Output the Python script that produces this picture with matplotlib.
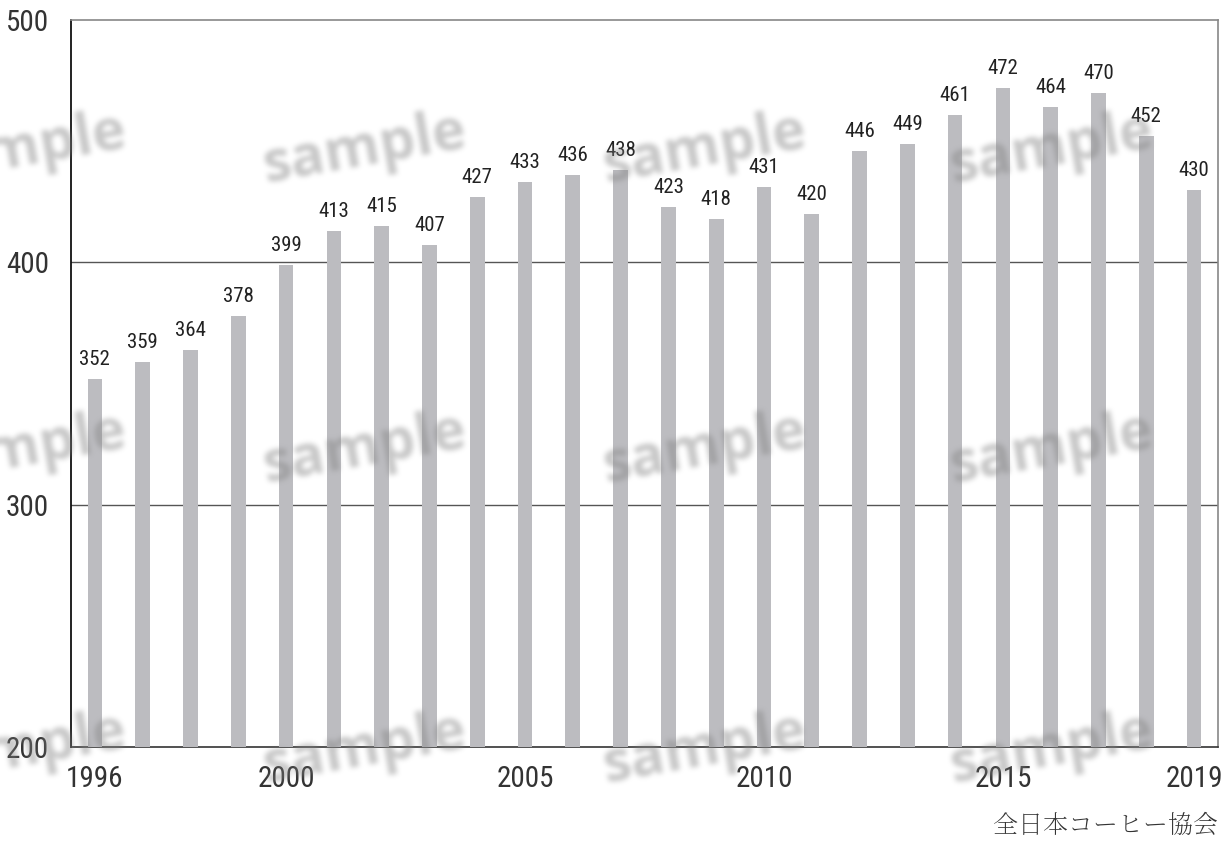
import numpy as np
import matplotlib
matplotlib.use("Agg")
import matplotlib.pyplot as plt
from matplotlib import font_manager

years = list(range(1996, 2020))
values = [352, 359, 364, 378, 399, 413, 415, 407, 427, 433, 436, 438,
          423, 418, 431, 420, 446, 449, 461, 472, 464, 470, 452, 430]
xtick_years = [1996, 2000, 2005, 2010, 2015, 2019]
yticks = [200, 300, 400, 500]
source = "全日本コーヒー協会"
mark_word = "sample"

W, H, DPI = 1229, 841, 100

names = {f.name for f in font_manager.fontManager.ttflist}


def pick(cands, fallback):
    for c in cands:
        if c in names:
            return c
    return fallback


num_font = pick(["Roboto Condensed", "PT Sans Narrow", "Archivo Narrow",
                 "IBM Plex Sans Condensed"], "DejaVu Sans")
jp_font = pick(["Noto Serif CJK JP", "BIZ UDMincho", "Noto Sans CJK JP"],
               "Noto Sans CJK JP")

text_col = "#333333"
bar_col = "#bcbcc0"

fig = plt.figure(figsize=(W / DPI, H / DPI), dpi=DPI)
ax = fig.add_axes([71 / W, 1 - 747 / H, (1218 - 71) / W, (747 - 20) / H])

x = np.arange(len(years))
ax.bar(x, values, width=0.307, color=bar_col, zorder=3)
ax.set_xlim(-0.5, len(years) - 0.5)
ax.set_ylim(200, 500)

for xi, v in zip(x, values):
    ax.annotate(str(v), (xi, v), xytext=(0, 10), textcoords="offset points",
                ha="center", va="baseline", fontsize=15, family=num_font,
                color="#222222", zorder=4)

ax.set_yticks(yticks)
ax.set_yticklabels([str(t) for t in yticks], fontsize=21, family=num_font,
                   color=text_col)
ax.set_xticks([years.index(y) for y in xtick_years])
ax.set_xticklabels([str(y) for y in xtick_years], fontsize=21,
                   family=num_font, color=text_col)
ax.tick_params(axis="both", length=0)
ax.tick_params(axis="y", pad=16)
ax.tick_params(axis="x", pad=13)

for t in [300, 400]:
    ax.axhline(t, color="#555555", lw=1.0, zorder=1)

ax.spines["left"].set_color("#111111")
ax.spines["left"].set_linewidth(1.3)
ax.spines["bottom"].set_color("#333333")
ax.spines["bottom"].set_linewidth(1.2)
ax.spines["top"].set_color("#888888")
ax.spines["top"].set_linewidth(1.2)
ax.spines["right"].set_color("#888888")
ax.spines["right"].set_linewidth(1.2)

fig.text(1218 / W, 1 - 825 / H, source, ha="right", va="center",
         fontsize=18, family=[jp_font, "DejaVu Sans"],
         fontweight="light", color=text_col)

# Soft watermark layer: rendered separately, blurred, then overlaid
wm = plt.figure(figsize=(W / DPI, H / DPI), dpi=DPI)
wm.patch.set_alpha(0)
col_px = [25, 365, 705, 1052]
row_px = [150, 450, 750]
for cy in row_px:
    for cx in col_px:
        wm.text(cx / W, 1 - cy / H, mark_word, ha="center", va="center",
                rotation=10, rotation_mode="anchor", fontsize=41,
                fontweight="bold", family="Open Sans", color="black")
wm.canvas.draw()
alpha = np.asarray(wm.canvas.buffer_rgba())[:, :, 3].astype(float) / 255.0
plt.close(wm)


def box_blur(a, r, axis):
    pad = [(0, 0), (0, 0)]
    pad[axis] = (r + 1, r)
    c = np.cumsum(np.pad(a, pad, mode="edge"), axis=axis)
    n = a.shape[axis]
    hi = np.take(c, np.arange(2 * r + 1, 2 * r + 1 + n), axis=axis)
    lo = np.take(c, np.arange(0, n), axis=axis)
    return (hi - lo) / (2 * r + 1)


for _ in range(3):
    alpha = box_blur(alpha, 2, 0)
    alpha = box_blur(alpha, 2, 1)

layer = np.zeros((alpha.shape[0], alpha.shape[1], 4))
layer[:, :, :3] = 0.52
layer[:, :, 3] = np.clip(alpha * 0.45, 0, 1)
fig.figimage(layer, xo=0, yo=0, origin="upper", zorder=10)

fig.savefig("out.png", dpi=DPI)
